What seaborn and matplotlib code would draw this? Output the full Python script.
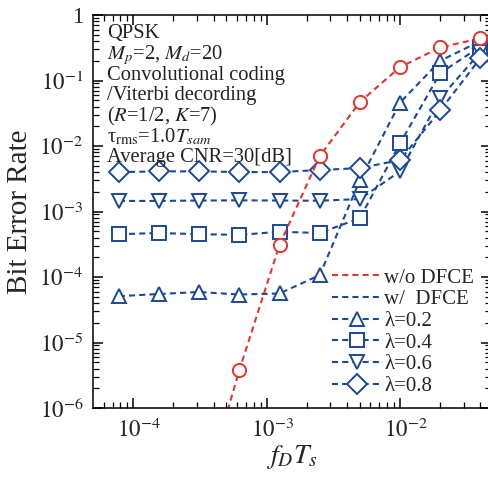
import numpy as np
import pandas as pd
import matplotlib
matplotlib.use("Agg")
import matplotlib.pyplot as plt
import matplotlib.transforms as mtrans
import seaborn as sns
from matplotlib.lines import Line2D
from matplotlib.ticker import FuncFormatter, FixedLocator, NullFormatter

# ---- data ----
fd_ts = [7.8125e-5, 1.5625e-4, 3.125e-4, 6.25e-4, 1.25e-3, 2.5e-3, 5e-3, 1e-2, 2e-2, 4e-2]
fd_ts_wo = [3.125e-4, 6.25e-4, 1.25e-3, 2.5e-3, 5e-3, 1e-2, 2e-2, 4e-2]
ber_wo = [3.0e-8, 3.8e-6, 3.1e-4, 7.0e-3, 4.7e-2, 0.16, 0.32, 0.44]
ber_l02 = [5.1e-5, 5.5e-5, 5.9e-5, 5.4e-5, 5.6e-5, 1.07e-4, 3.0e-3, 4.6e-2, 0.20, 0.40]
ber_l04 = [4.5e-4, 4.7e-4, 4.5e-4, 4.4e-4, 4.9e-4, 4.7e-4, 7.9e-4, 1.1e-2, 0.13, 0.33]
ber_l06 = [1.45e-3, 1.45e-3, 1.47e-3, 1.48e-3, 1.47e-3, 1.46e-3, 1.55e-3, 4.1e-3, 5.4e-2, 0.27]
ber_l08 = [4.0e-3, 4.1e-3, 4.1e-3, 4.0e-3, 4.0e-3, 4.3e-3, 4.6e-3, 6.1e-3, 3.5e-2, 0.22]

lambda_labels = ["λ=0.2", "λ=0.4", "λ=0.6", "λ=0.8"]
lambda_series = [ber_l02, ber_l04, ber_l06, ber_l08]
lambda_markers = ["^", "s", "v", "D"]
lambda_msizes = [10.5, 9.5, 10.5, 10.5]

x_major = [1e-4, 1e-3, 1e-2]
y_major = [1e-6, 1e-5, 1e-4, 1e-3, 1e-2, 1e-1, 1.0]

annotation_lines = [
    "QPSK",
    r"$M_p$=2, $M_d$=20",
    "Convolutional coding",
    "/Viterbi decording",
    r"($R$=1/2, $K$=7)",
    r"τ$_{\rm rms}$=1.0$T_{sam}$",
    "Average CNR=30[dB]",
]

RED = "#e5352b"
BLUE = "#1a4896"

sns.set_theme(style="ticks")
plt.rcParams["font.family"] = ["Liberation Serif", "DejaVu Serif"]
plt.rcParams["mathtext.fontset"] = "stix"

W, H = 489, 478
fig = plt.figure(figsize=(W / 100, H / 100), dpi=100)
fig.patch.set_facecolor("white")
L, R, T, B = 93, 491, 15, 408
ax = fig.add_axes([L / W, (H - B) / H, (R - L) / W, (B - T) / H])
ax.set_facecolor("white")

dash = (0, (2.9, 2.0))
lw = 1.5

for yvals, mk, ms in zip(lambda_series, lambda_markers, lambda_msizes):
    sns.lineplot(x=fd_ts, y=yvals, ax=ax, color=BLUE, linestyle=dash, linewidth=lw,
                 marker=mk, markersize=ms, markerfacecolor="white",
                 markeredgecolor=BLUE, markeredgewidth=1.4, sort=False)

sns.lineplot(x=fd_ts_wo, y=ber_wo, ax=ax, color=RED, linestyle=dash, linewidth=lw,
             marker="o", markersize=9.5, markerfacecolor="white",
             markeredgecolor=RED, markeredgewidth=1.4, sort=False)

ax.set_xscale("log")
ax.set_yscale("log")
ax.set_xlim(5e-5, 4.8e-2)
ax.set_ylim(1e-6, 1)

def yfmt(v, pos):
    e = int(round(np.log10(v)))
    return "1" if e == 0 else r"$10^{%d}$" % e

def xfmt(v, pos):
    e = int(round(np.log10(v)))
    return r"$10^{%d}$" % e

def minors(lo_exp, hi_exp, lo, hi):
    out = []
    for e in range(lo_exp, hi_exp + 1):
        for s in range(2, 10):
            v = s * 10.0 ** e
            if lo < v < hi:
                out.append(v)
    return out

ax.yaxis.set_major_locator(FixedLocator(y_major))
ax.xaxis.set_major_locator(FixedLocator(x_major))
ax.yaxis.set_minor_locator(FixedLocator(minors(-6, -1, 1e-6, 1.0)))
ax.xaxis.set_minor_locator(FixedLocator(minors(-5, -2, 5e-5, 4.8e-2)))
ax.yaxis.set_major_formatter(FuncFormatter(yfmt))
ax.xaxis.set_major_formatter(FuncFormatter(xfmt))
ax.yaxis.set_minor_formatter(NullFormatter())
ax.xaxis.set_minor_formatter(NullFormatter())

ax.tick_params(which="both", direction="in", top=True, right=True, color="black")
ax.tick_params(which="major", length=7, width=1.1, labelsize=16.5)
ax.tick_params(which="minor", length=4, width=0.9)
ax.tick_params(axis="x", which="major", pad=8)
ax.tick_params(axis="y", which="major", pad=7)
for s in ax.spines.values():
    s.set_color("black")
    s.set_linewidth(1.1)

# shift x tick labels so that the base "10" sits over the tick
offset = mtrans.ScaledTranslation(6 / 100, 0, fig.dpi_scale_trans)
for lab in ax.get_xticklabels():
    lab.set_transform(lab.get_transform() + offset)

ax.set_ylabel("Bit Error Rate", fontsize=21)
ax.yaxis.set_label_coords((33 - L) / (R - L), 0.5)
ax.set_xlabel(r"$f_D T_s$", fontsize=20)
ax.xaxis.set_label_coords(0.5, -0.09)

baselines = [38, 59, 80, 100, 121, 142, 162]
for txt, b in zip(annotation_lines, baselines):
    ax.text((107 - L) / (R - L), (B - b) / (B - T), txt, transform=ax.transAxes,
            fontsize=14.8, va="baseline", ha="left", color="#222222")

handles = [
    Line2D([], [], color=RED, linestyle=dash, linewidth=lw),
    Line2D([], [], color=BLUE, linestyle=dash, linewidth=lw),
]
labels = ["w/o DFCE", "w/  DFCE"]
for mk, ms, lab in zip(lambda_markers, lambda_msizes, lambda_labels):
    handles.append(Line2D([], [], color=BLUE, linestyle=dash, linewidth=lw, marker=mk,
                          markersize=ms, markerfacecolor="white", markeredgecolor=BLUE,
                          markeredgewidth=1.4))
    labels.append(lab)

ax.legend(handles, labels, loc="upper left",
          bbox_to_anchor=((332 - L) / (R - L), (B - 268) / (B - T)),
          frameon=False, borderpad=0, borderaxespad=0, handlelength=2.4,
          handletextpad=0.1, labelspacing=0.1, fontsize=15, numpoints=1)

fig.savefig("out.png", dpi=100, facecolor="white")
